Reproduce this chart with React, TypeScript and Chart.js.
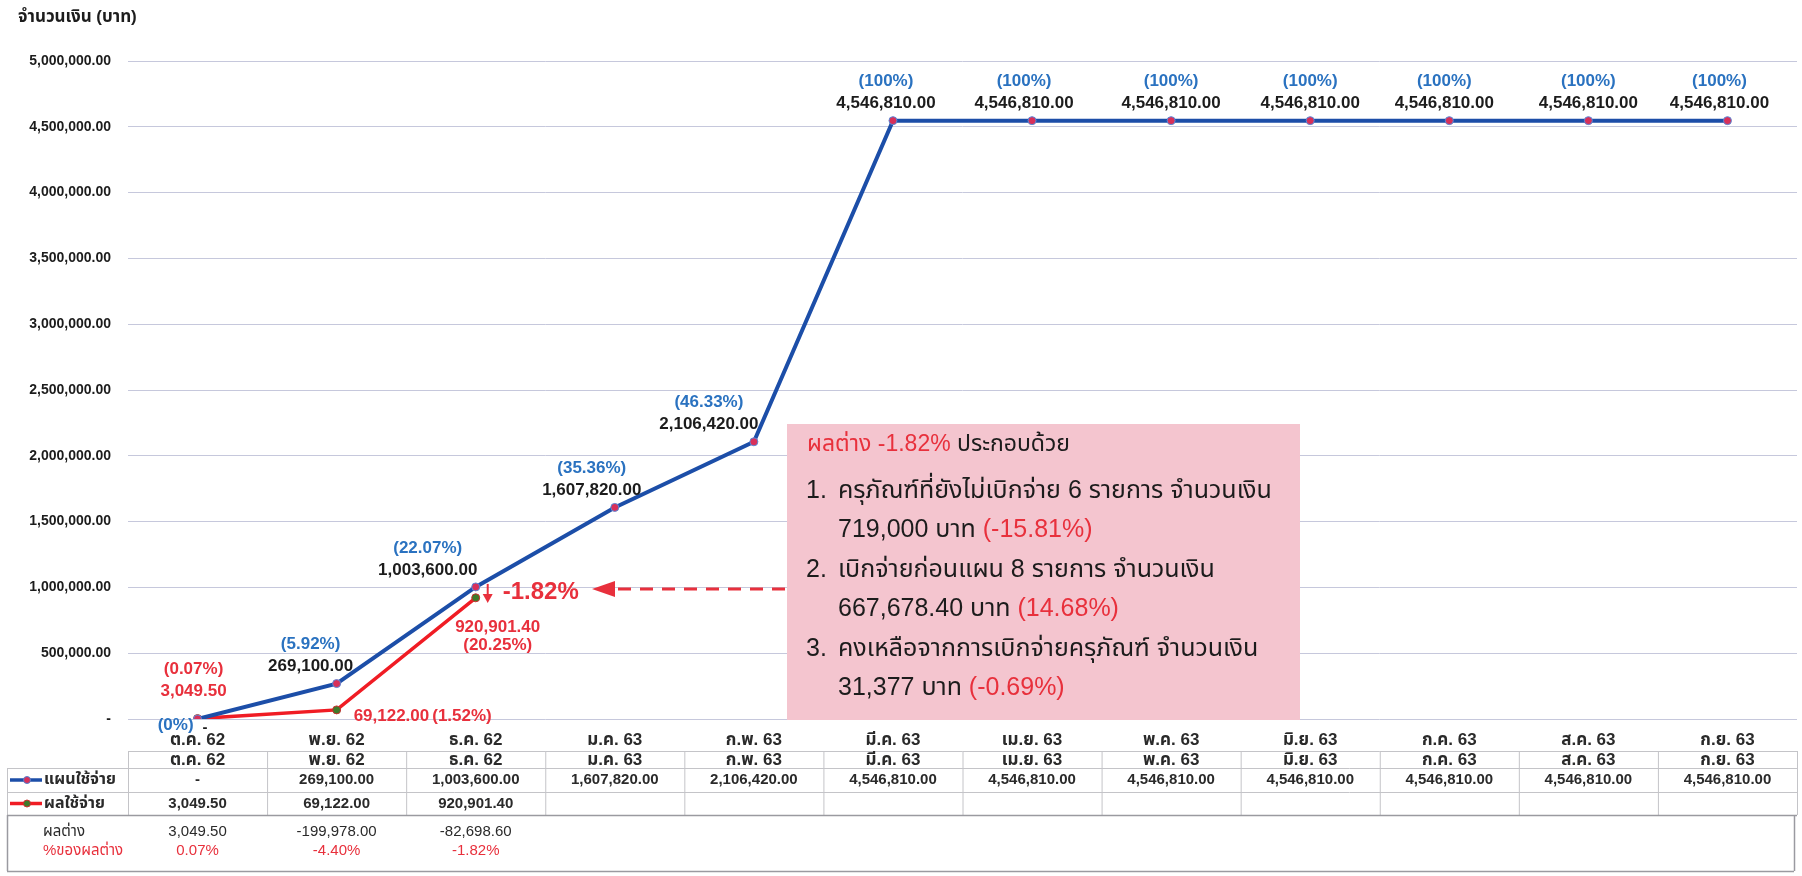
import React, { useEffect, useRef } from "react";
import { Chart, registerables } from "chart.js";

Chart.register(...registerables);

// ---------- DATA ----------
const months = ["ต.ค. 62", "พ.ย. 62", "ธ.ค. 62", "ม.ค. 63", "ก.พ. 63", "มี.ค. 63", "เม.ย. 63", "พ.ค. 63", "มิ.ย. 63", "ก.ค. 63", "ส.ค. 63", "ก.ย. 63"];
const planValues = [0, 269100, 1003600, 1607820, 2106420, 4546810, 4546810, 4546810, 4546810, 4546810, 4546810, 4546810];
const actualValues: (number | null)[] = [3049.5, 69122, 920901.4, null, null, null, null, null, null, null, null, null];
const planPctLabels = ["(0%)", "(5.92%)", "(22.07%)", "(35.36%)", "(46.33%)", "(100%)", "(100%)", "(100%)", "(100%)", "(100%)", "(100%)", "(100%)"];
const actualPctLabels = ["(0.07%)", "(1.52%)", "(20.25%)"];
const diffValues = [3049.5, -199978.0, -82698.6];
const diffPctLabels = ["0.07%", "-4.40%", "-1.82%"];
const yMax = 5000000;
const yStep = 500000;
const seriesNames = ["แผนใช้จ่าย", "ผลใช้จ่าย"];
const diffRowNames = ["ผลต่าง", "%ของผลต่าง"];
const axisTitle = "จำนวนเงิน (บาท)";
const calloutLabel = "-1.82%";
const noteLines: { num?: string; runs: [string, boolean][] }[] = [
  { runs: [["ผลต่าง -1.82%", true], [" ประกอบด้วย", false]] },
  { num: "1.", runs: [["ครุภัณฑ์ที่ยังไม่เบิกจ่าย 6 รายการ จำนวนเงิน", false]] },
  { runs: [["719,000 บาท ", false], ["(-15.81%)", true]] },
  { num: "2.", runs: [["เบิกจ่ายก่อนแผน 8 รายการ จำนวนเงิน", false]] },
  { runs: [["667,678.40 บาท ", false], ["(14.68%)", true]] },
  { num: "3.", runs: [["คงเหลือจากการเบิกจ่ายครุภัณฑ์ จำนวนเงิน", false]] },
  { runs: [["31,377 บาท ", false], ["(-0.69%)", true]] },
];

// ---------- STYLE ----------
const FONT = "'Liberation Sans', 'Noto Sans Thai', 'Noto Sans', sans-serif";
const BLUE = "#1c4ea8";
const BLUE_TXT = "#2a72c0";
const RED = "#f01c24";
const RED_TXT = "#e8303c";
const BLACK = "#1c1c1c";
const GRID = "#c6c8dc";
const PINK = "#f4c5cf";

const fmt = (v: number) =>
  v === 0 ? "-" : v.toLocaleString("en-US", { minimumFractionDigits: 2, maximumFractionDigits: 2 });

function text(ctx: CanvasRenderingContext2D, s: string, x: number, y: number, font: string, color: string, align: CanvasTextAlign = "center") {
  ctx.font = font;
  ctx.fillStyle = color;
  ctx.textAlign = align;
  ctx.textBaseline = "middle";
  ctx.fillText(s, x, y);
}

// per-point horizontal nudges for the plan labels (layout only)
const planLabelDx = [0, -26, -48, -23, -45, -7, -8, 0, 0, -5, 0, -8];

const overlay = {
  id: "overlay",
  afterDraw(chart: any) {
    const ctx: CanvasRenderingContext2D = chart.ctx;
    const xs = chart.scales.x;
    const area = chart.chartArea;
    const colW = (area.right - area.left) / months.length;
    const planMeta = chart.getDatasetMeta(0);
    const actMeta = chart.getDatasetMeta(1);
    ctx.save();

    // axis title
    text(ctx, axisTitle, 18, 17, `bold 17px ${FONT}`, BLACK, "left");

    // callout box
    const bx = 787, by = 424, bw = 513, bh = 296;
    ctx.fillStyle = PINK;
    ctx.fillRect(bx, by, bw, bh);
    noteLines.forEach((ln, k) => {
      const size = k === 0 ? 23 : 25;
      const ly = k === 0 ? 445 : 491 + (k - 1) * 39.5;
      let x = k === 0 ? 807 : 838;
      if (ln.num) text(ctx, ln.num, 806, ly, `${size}px ${FONT}`, BLACK, "left");
      ln.runs.forEach(([s, red]) => {
        text(ctx, s, x, ly, `${size}px ${FONT}`, red ? RED_TXT : BLACK, "left");
        ctx.font = `${size}px ${FONT}`;
        x += ctx.measureText(s).width;
      });
    });

    // plan labels
    planMeta.data.forEach((pt: any, i: number) => {
      const px = pt.x, py = pt.y;
      if (i === 0) {
        text(ctx, planPctLabels[i], px - 4, py + 6, `bold 17px ${FONT}`, BLUE_TXT, "right");
        text(ctx, fmt(planValues[i]), px + 5, py + 9, `bold 15px ${FONT}`, BLACK, "left");
        return;
      }
      const cx = px + planLabelDx[i];
      text(ctx, planPctLabels[i], cx, py - 39, `bold 17px ${FONT}`, BLUE_TXT);
      text(ctx, fmt(planValues[i]), cx, py - 17, `bold 17px ${FONT}`, BLACK);
    });

    // actual labels
    actMeta.data.forEach((pt: any, i: number) => {
      const v = actualValues[i];
      if (v == null) return;
      const px = pt.x, py = pt.y;
      if (i === 0) {
        text(ctx, actualPctLabels[i], px - 4, py - 49, `bold 17px ${FONT}`, RED_TXT);
        text(ctx, fmt(v), px - 4, py - 27, `bold 17px ${FONT}`, RED_TXT);
      } else if (i === 1) {
        const s = fmt(v);
        ctx.font = `bold 17px ${FONT}`;
        const w = ctx.measureText(s).width;
        text(ctx, s, px + 17, py + 6, `bold 17px ${FONT}`, RED_TXT, "left");
        text(ctx, actualPctLabels[i], px + 20 + w, py + 6, `bold 17px ${FONT}`, RED_TXT, "left");
      } else {
        text(ctx, fmt(v), px + 22, py + 30, `bold 17px ${FONT}`, RED_TXT);
        text(ctx, actualPctLabels[i], px + 22, py + 48, `bold 17px ${FONT}`, RED_TXT);
      }
    });

    // -1.82% callout at December
    const p2 = planMeta.data[2];
    const ax = p2.x + 12;
    ctx.strokeStyle = RED_TXT;
    ctx.fillStyle = RED_TXT;
    ctx.lineWidth = 2;
    ctx.beginPath();
    ctx.moveTo(ax, p2.y - 3);
    ctx.lineTo(ax, p2.y + 10);
    ctx.stroke();
    ctx.beginPath();
    ctx.moveTo(ax - 5, p2.y + 7);
    ctx.lineTo(ax + 5, p2.y + 7);
    ctx.lineTo(ax, p2.y + 16);
    ctx.closePath();
    ctx.fill();
    text(ctx, calloutLabel, ax + 15, p2.y + 5, `bold 24px ${FONT}`, RED_TXT, "left");
    // dashed arrow from box
    const dy = p2.y + 2;
    ctx.lineWidth = 3;
    ctx.setLineDash([13, 9]);
    ctx.beginPath();
    ctx.moveTo(bx - 2, dy);
    ctx.lineTo(613, dy);
    ctx.stroke();
    ctx.setLineDash([]);
    ctx.beginPath();
    ctx.moveTo(592, dy);
    ctx.lineTo(615, dy - 8);
    ctx.lineTo(615, dy + 8);
    ctx.closePath();
    ctx.fill();

    // ---------- data table ----------
    const L = area.left, R = area.right;
    const yTop = 751, yR1 = 768, yR2 = 792, yR3 = 815, yBot = 871;
    const hline = (y: number, x0: number, x1: number, c = "#c4c4c8", w = 1) => {
      ctx.strokeStyle = c; ctx.lineWidth = w;
      ctx.beginPath(); ctx.moveTo(x0, y + 0.5); ctx.lineTo(x1, y + 0.5); ctx.stroke();
    };
    const vline = (x: number, y0: number, y1: number, c = "#c4c4c8", w = 1) => {
      ctx.strokeStyle = c; ctx.lineWidth = w;
      ctx.beginPath(); ctx.moveTo(x + 0.5, y0); ctx.lineTo(x + 0.5, y1); ctx.stroke();
    };
    hline(yTop, L, R);
    hline(yR1, 7, R);
    hline(yR2, 7, R);
    vline(7, yR1, yR3);
    for (let k = 0; k <= months.length; k++) vline(L + k * colW, yTop, yR3);
    // bottom box
    hline(yR3, 7, R, "#9a9aa0", 1.5);
    hline(yBot, 7, R - 3, "#9a9aa0", 1.5);
    vline(7, yR3, yBot, "#9a9aa0", 1.5);
    vline(R - 3, yR3, yBot, "#9a9aa0", 1.5);

    months.forEach((m, i) => {
      const cx = xs.getPixelForValue(i);
      text(ctx, m, cx, (yTop + yR1) / 2 + 1, `bold 17px ${FONT}`, "#2a2a2a");
      text(ctx, fmt(planValues[i]), cx, (yR1 + yR2) / 2, `bold 15px ${FONT}`, "#2a2a2a");
      const a = actualValues[i];
      if (a != null) text(ctx, fmt(a), cx, (yR2 + yR3) / 2, `bold 15px ${FONT}`, "#2a2a2a");
      if (i < diffValues.length) {
        text(ctx, fmt(diffValues[i]), cx, 832, `15px ${FONT}`, "#2a2a2a");
        text(ctx, diffPctLabels[i], cx, 851, `15px ${FONT}`, RED_TXT);
      }
    });

    // legend keys
    const key = (y: number, line: string, dot: string, dotBorder: string, label: string) => {
      ctx.strokeStyle = line; ctx.lineWidth = 3.5;
      ctx.beginPath(); ctx.moveTo(10, y); ctx.lineTo(42, y); ctx.stroke();
      ctx.fillStyle = dot; ctx.strokeStyle = dotBorder; ctx.lineWidth = 1;
      ctx.beginPath(); ctx.arc(27, y, 3.5, 0, Math.PI * 2); ctx.fill(); ctx.stroke();
      text(ctx, label, 44, y, `bold 16px ${FONT}`, "#2a2a2a", "left");
    };
    key((yR1 + yR2) / 2, BLUE, "#d8305a", "#5080d0", seriesNames[0]);
    key((yR2 + yR3) / 2, RED, "#3f7a2a", "#d03030", seriesNames[1]);

    text(ctx, diffRowNames[0], 43, 832, `15px ${FONT}`, "#2a2a2a", "left");
    text(ctx, diffRowNames[1], 43, 851, `15px ${FONT}`, RED_TXT, "left");

    ctx.restore();
  },
};

export default function App() {
  const ref = useRef<HTMLCanvasElement | null>(null);
  useEffect(() => {
    if (!ref.current) return;
    const chart = new Chart(ref.current, {
      type: "line",
      data: {
        labels: months,
        datasets: [
          {
            label: seriesNames[0],
            data: planValues,
            borderColor: BLUE,
            borderWidth: 4,
            pointRadius: 4,
            pointBackgroundColor: "#d8305a",
            pointBorderColor: "#5a88d8",
            pointBorderWidth: 1,
            tension: 0,
          },
          {
            label: seriesNames[1],
            data: actualValues,
            borderColor: RED,
            borderWidth: 3.5,
            pointRadius: 4,
            pointBackgroundColor: "#3f7a2a",
            pointBorderColor: "#c83030",
            pointBorderWidth: 1,
            tension: 0,
            spanGaps: false,
          },
        ],
      },
      options: {
        responsive: false,
        animation: false,
        layout: { padding: { left: 0, right: 5, top: 61, bottom: 0 } },
        plugins: { legend: { display: false }, tooltip: { enabled: false }, title: { display: false } },
        scales: {
          x: {
            type: "category",
            offset: true,
            grid: { display: false, drawTicks: false },
            border: { display: false },
            ticks: { autoSkip: false, maxRotation: 0, padding: 11, color: "#2a2a2a", font: { family: FONT, size: 17, weight: "bold" } },
            afterFit: (s: any) => { s.height = 876 - 719; },
          },
          y: {
            min: 0,
            max: yMax,
            grid: { color: GRID, lineWidth: 1, drawTicks: false },
            border: { display: false },
            ticks: {
              stepSize: yStep,
              padding: 17,
              color: "#1c1c1c",
              font: { family: FONT, size: 14, weight: "bold" },
              callback: (v: any) => fmt(Number(v)),
            },
            afterFit: (s: any) => { s.width = 128; },
          },
        },
      } as any,
      plugins: [overlay],
    });
    return () => chart.destroy();
  }, []);
  return (
    <div style={{ position: "fixed", left: 0, top: 0, width: 1802, height: 876, background: "#fff" }}>
      <canvas ref={ref} width={1802} height={876} style={{ display: "block" }} />
    </div>
  );
}
